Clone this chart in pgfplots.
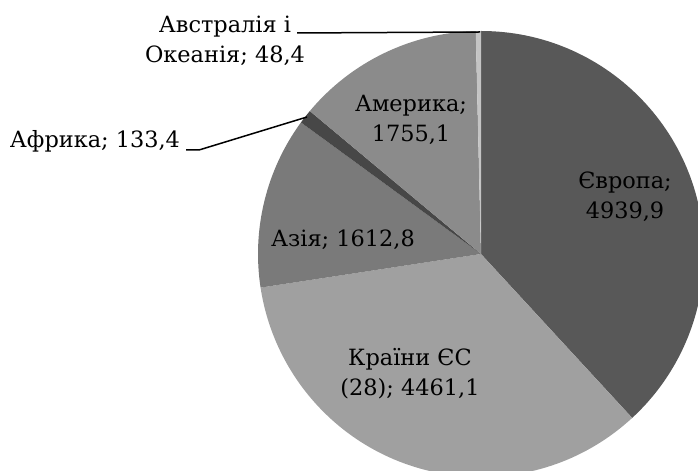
\documentclass[border=0pt]{standalone}
\usepackage{pgfplots}
\pgfplotsset{compat=1.18}
\usepackage{pgfplotstable}
\usepackage{fontspec}
\setmainfont{DejaVu Serif}
\definecolor{cEur}{HTML}{585858}
\definecolor{cEU}{HTML}{A0A0A0}
\definecolor{cAsia}{HTML}{7A7A7A}
\definecolor{cAfr}{HTML}{474747}
\definecolor{cAm}{HTML}{8B8B8B}
\definecolor{cAus}{HTML}{C4C4C4}
\tikzset{lbl/.style={font=\fontsize{22.5}{30}\selectfont, align=center, text=black, inner sep=0pt}}
\pgfplotstableread{
value col
4939.9 cEur
4461.1 cEU
1612.8 cAsia
133.4 cAfr
1755.1 cAm
48.4 cAus
}\piedata
\begin{document}
\begin{tikzpicture}
\xdef\total{0}
\pgfplotsinvokeforeach{0,...,5}{%
  \pgfplotstablegetelem{#1}{value}\of\piedata
  \pgfmathsetmacro\tmp{\total+\pgfplotsretval}%
  \xdef\total{\tmp}%
}
\xdef\cur{90}
\pgfplotsinvokeforeach{0,...,5}{%
  \pgfplotstablegetelem{#1}{value}\of\piedata
  \pgfmathsetmacro\tmp{\cur-360*(\pgfplotsretval/\total)}%
  \expandafter\xdef\csname sa#1\endcsname{\cur}%
  \expandafter\xdef\csname ea#1\endcsname{\tmp}%
  \xdef\cur{\tmp}%
  \pgfplotstablegetelem{#1}{col}\of\piedata
  \expandafter\xdef\csname col#1\endcsname{\pgfplotsretval}%
}
\begin{axis}[name=ax, hide axis, scale only axis, width=698bp, height=471bp,
  xmin=0, xmax=698, ymin=0, ymax=471, clip=false]
\pgfplotsinvokeforeach{0,...,5}{%
  \fill[fill=\csname col#1\endcsname] (axis cs:481,217) -- ++(\csname sa#1\endcsname:223bp)
    arc[start angle=\csname sa#1\endcsname, end angle=\csname ea#1\endcsname, radius=223bp] -- cycle;
}
\draw[black, line width=1.5bp] (axis cs:297,438) -- (axis cs:480,439);
\draw[black, line width=1.5bp] (axis cs:186,321) -- (axis cs:199,321) -- (axis cs:307,354);
\node[lbl] at (axis cs:625,274) {Європа;\\4939,9};
\node[lbl] at (axis cs:410,97) {Країни ЄС\\(28); 4461,1};
\node[lbl] at (axis cs:343,231) {Азія; 1612,8};
\node[lbl] at (axis cs:411,351) {Америка;\\1755,1};
\node[lbl] at (axis cs:95,330) {Африка; 133,4};
\node[lbl] at (axis cs:225,430) {Австралія і\\Океанія; 48,4};
\end{axis}
\pgfresetboundingbox
\path[use as bounding box] (ax.south west) rectangle (ax.north east);
\end{tikzpicture}
\end{document}
